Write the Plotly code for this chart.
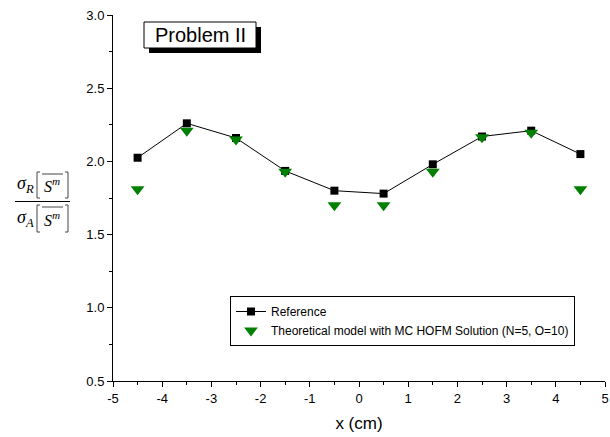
import plotly.graph_objects as go

# Measured ratio along x for the reference solution and the MC HOFM model
x_cm = [-4.5, -3.5, -2.5, -1.5, -0.5, 0.5, 1.5, 2.5, 3.5, 4.5]
ref_ratio = [2.025, 2.26, 2.16, 1.935, 1.80, 1.78, 1.98, 2.17, 2.21, 2.05]
model_ratio = [1.81, 2.21, 2.15, 1.93, 1.70, 1.70, 1.93, 2.165, 2.195, 1.81]

x_ticks = [-5, -4, -3, -2, -1, 0, 1, 2, 3, 4, 5]
y_ticks = [0.5, 1.0, 1.5, 2.0, 2.5, 3.0]

W, H = 610, 437
L, R, T, B = 113, 5, 15, 56
PW, PH = W - L - R, H - T - B


def px(xp):
    return (xp - L) / PW


def py(yp):
    return (H - B - yp) / PH


fig = go.Figure()
fig.add_trace(go.Scatter(
    x=x_cm, y=ref_ratio, mode="lines+markers", name="Reference",
    line=dict(color="black", width=1),
    marker=dict(symbol="square", size=8, color="black"),
))
fig.add_trace(go.Scatter(
    x=x_cm, y=model_ratio, mode="markers",
    name="Theoretical model with MC HOFM Solution (N=5, O=10)",
    marker=dict(symbol="triangle-down", size=12, color="#008000"),
))

sans = "Arial, Liberation Sans, sans-serif"
axis_font = dict(family=sans, size=13, color="black")
fig.update_xaxes(
    range=[-5, 5], tickvals=x_ticks, ticktext=[str(v) for v in x_ticks],
    showline=True, linecolor="black", linewidth=1, mirror=False,
    ticks="outside", ticklen=5, tickcolor="black", tickwidth=1,
    minor=dict(dtick=0.5, ticks="outside", ticklen=3, tickcolor="black", tickwidth=1),
    showgrid=False, zeroline=False, tickfont=axis_font,
    title=dict(text="x (cm)", font=dict(family=sans, size=17, color="black"), standoff=12),
)
fig.update_yaxes(
    range=[0.5, 3.0], tickvals=y_ticks, ticktext=["%.1f" % v for v in y_ticks],
    showline=True, linecolor="black", linewidth=1, mirror=False,
    ticks="outside", ticklen=5, tickcolor="black", tickwidth=1,
    minor=dict(dtick=0.25, ticks="outside", ticklen=3, tickcolor="black", tickwidth=1),
    showgrid=False, zeroline=False, tickfont=axis_font,
)

shapes = []
annotations = []

# "Problem II" label box with drop shadow
shapes.append(dict(type="rect", xref="paper", yref="paper",
                   x0=px(149), x1=px(261), y0=py(53), y1=py(27),
                   fillcolor="black", line=dict(width=0), layer="above"))
shapes.append(dict(type="rect", xref="paper", yref="paper",
                   x0=px(144), x1=px(256), y0=py(48), y1=py(22),
                   fillcolor="white", line=dict(color="black", width=1), layer="above"))
annotations.append(dict(xref="paper", yref="paper", x=px(200), y=py(35),
                        text="Problem II", showarrow=False,
                        font=dict(family=sans, size=20, color="black"),
                        xanchor="center", yanchor="middle"))

# y-axis label: sigma_R[S^m] / sigma_A[S^m]
serif = "Liberation Serif, Times New Roman, serif"
bracket_col = "#444444"


def bracket_pair(top, bottom):
    lx, rx = 37, 68
    return [
        dict(type="path", xref="paper", yref="paper",
             path=f"M {px(lx+3)},{py(top)} L {px(lx)},{py(top)} L {px(lx)},{py(bottom)} L {px(lx+3)},{py(bottom)}",
             line=dict(color=bracket_col, width=1)),
        dict(type="path", xref="paper", yref="paper",
             path=f"M {px(rx-3)},{py(top)} L {px(rx)},{py(top)} L {px(rx)},{py(bottom)} L {px(rx-3)},{py(bottom)}",
             line=dict(color=bracket_col, width=1)),
        dict(type="line", xref="paper", yref="paper",
             x0=px(42), x1=px(63), y0=py(top + 2), y1=py(top + 2),
             line=dict(color=bracket_col, width=1)),
    ]


shapes += bracket_pair(172, 198)
shapes += bracket_pair(205, 232)
shapes.append(dict(type="line", xref="paper", yref="paper",
                   x0=px(15), x1=px(70), y0=py(201.5), y1=py(201.5),
                   line=dict(color="black", width=1)))

for yc, sub in [(185, "R"), (219, "A")]:
    annotations.append(dict(xref="paper", yref="paper", x=px(25), y=py(yc),
                            text=f"<i>σ</i><sub><i>{sub}</i></sub>", showarrow=False,
                            font=dict(family=serif, size=18, color="black"),
                            xanchor="center", yanchor="middle"))
    annotations.append(dict(xref="paper", yref="paper", x=px(52), y=py(yc),
                            text="<i>S</i><sup><i>m</i></sup>", showarrow=False,
                            font=dict(family=serif, size=16, color="black"),
                            xanchor="center", yanchor="middle"))

fig.update_layout(
    width=W, height=H,
    margin=dict(l=L, r=R, t=T, b=B, autoexpand=False),
    paper_bgcolor="white", plot_bgcolor="white",
    shapes=shapes, annotations=annotations,
    showlegend=True,
    legend=dict(
        x=px(230), y=py(296), xanchor="left", yanchor="top",
        bgcolor="white", bordercolor="black", borderwidth=1,
        font=dict(family=sans, size=12, color="black"),
        tracegroupgap=0, itemwidth=30,
    ),
)

fig.write_html("out.html")
